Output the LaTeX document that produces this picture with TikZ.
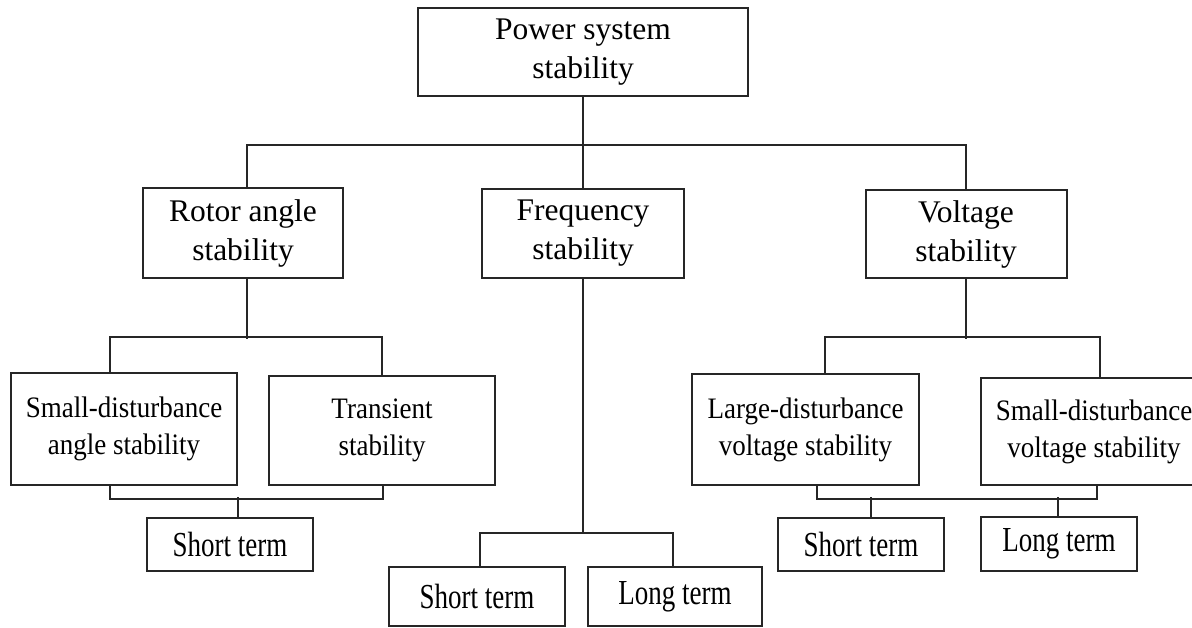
\documentclass[tikz,border=0pt]{standalone}
\usepackage{fontspec}
\usepackage{graphicx}
\setmainfont{Liberation Serif}
\newcommand\tallrow[2]{\scalebox{1}[#1]{#2}}
\begin{document}
\begin{tikzpicture}[x=1pt,y=-1pt,
  line width=2pt, draw=black!85, text=black,
  box/.style={draw, rectangle, inner sep=0pt, align=center},
  lvltop/.style={box, font=\fontsize{31.5}{39}\selectfont},
  lvlmid/.style={box, font=\fontsize{27}{37}\selectfont},
  lvlend/.style={box, font=\fontsize{27}{32}\selectfont},
  link/.style={line width=2pt}]
\useasboundingbox (0,0) rectangle (1192,628);

% top level
\node[lvltop, minimum width=330pt, minimum height=88pt] (pss) at (583,52) {Power system\\stability};

% second level
\node[lvltop, minimum width=200pt, minimum height=90pt] (rotor) at (243,233) {Rotor angle\\stability};
\node[lvltop, minimum width=202pt, minimum height=89pt] (freq) at (583,233.5) {Frequency\\stability};
\node[lvltop, minimum width=201pt, minimum height=88pt] (volt) at (966,234) {Voltage\\stability};

% third level
\node[lvlmid, minimum width=226pt, minimum height=112pt] (smalla) at (124,429)
  {\tallrow{1.1}{Small-disturbance}\\\tallrow{1.1}{angle stability}};
\node[lvlmid, minimum width=226pt, minimum height=109pt] (trans) at (382,430.5)
  {\tallrow{1.1}{Transient}\\\tallrow{1.1}{stability}};
\node[lvlmid, minimum width=227pt, minimum height=111pt] (large) at (805.5,429.5)
  {\tallrow{1.1}{Large-disturbance}\\\tallrow{1.1}{voltage stability}};
\node[lvlmid, minimum width=226pt, minimum height=107pt] (smallv) at (1094,431.5)
  {\tallrow{1.1}{Small-disturbance}\\\tallrow{1.1}{voltage stability}};

% time-frame boxes
\node[lvlend, minimum width=166pt, minimum height=53pt] (shorta) at (230,544.5) {\tallrow{1.3}{Short term}};
\node[lvlend, minimum width=176pt, minimum height=59pt] (shortf) at (477,596.5) {\tallrow{1.3}{Short term}};
\node[lvlend, minimum width=174pt, minimum height=59pt] (longf) at (675,596.5) {\tallrow{1.3}{Long term}};
\node[lvlend, minimum width=166pt, minimum height=53pt] (shortv) at (861,544.5) {\tallrow{1.3}{Short term}};
\node[lvlend, minimum width=156pt, minimum height=54pt] (longv) at (1059,544) {\tallrow{1.3}{Long term}};

% junction point under frequency stability
\coordinate (fj) at (583,533);

% first split
\draw[link] (pss.south) -- (freq.north);
\draw[link] ([xshift=4pt]rotor.north) -- ++(0,-42) -| (volt.north);

% rotor angle branch
\draw[link] ([xshift=4pt]rotor.south) -- ++(0,60);
\draw[link] ([xshift=-14pt]smalla.north) -- ++(0,-35) -| (trans.north);
\draw[link] ([xshift=-14pt]smalla.south) -- ++(0,13) -| ([xshift=1pt]trans.south);
\draw[link] ([xshift=8pt]shorta.north) -- ++(0,-20);

% frequency branch
\draw[link] (freq.south) -- (fj);
\draw[link] ([xshift=3pt]shortf.north) |- (fj) -| ([xshift=-2pt]longf.north);

% voltage branch
\draw[link] (volt.south) -- ++(0,60);
\draw[link] ([xshift=19.5pt]large.north) -- ++(0,-36) -| ([xshift=6pt]smallv.north);
\draw[link] ([xshift=11.5pt]large.south) -- ++(0,13) -| ([xshift=3pt]smallv.south);
\draw[link] ([xshift=10pt]shortv.north) -- ++(0,-20);
\draw[link] ([xshift=-1pt]longv.north) -- ++(0,-19);
\end{tikzpicture}
\end{document}
